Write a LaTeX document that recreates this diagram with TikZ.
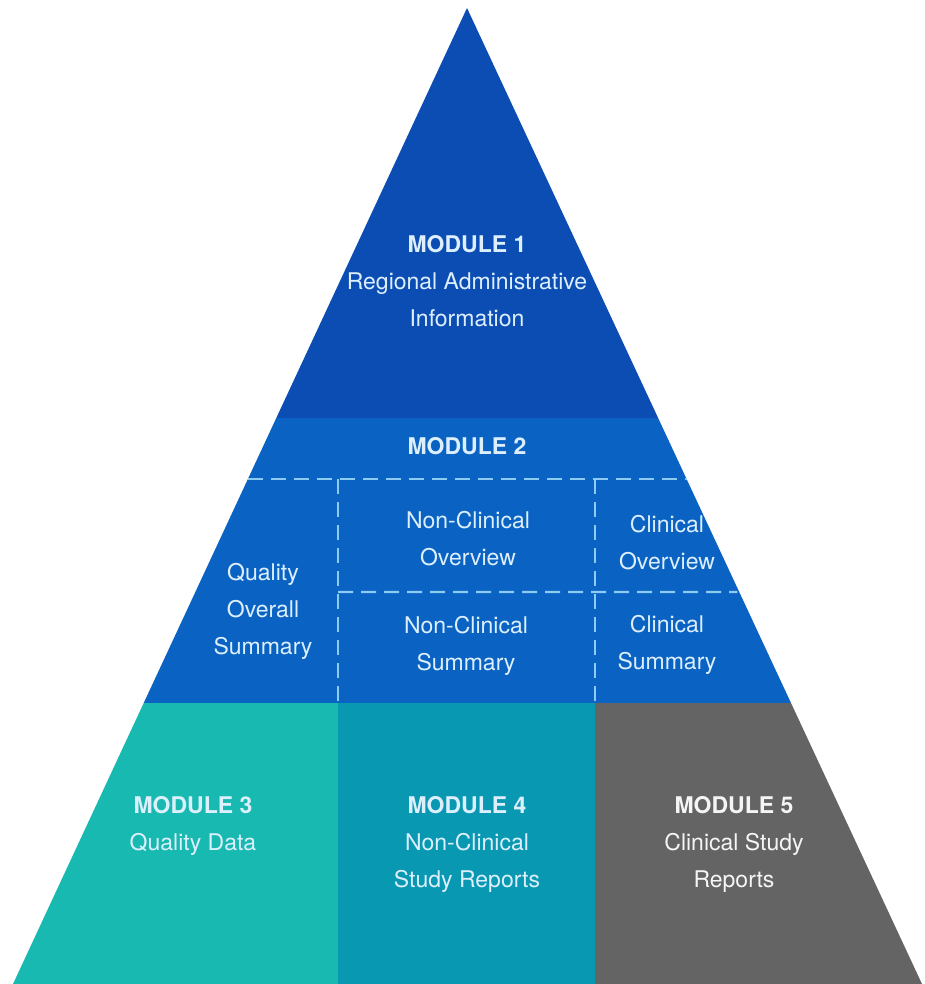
\documentclass[tikz,border=0pt]{standalone}
\usepackage{fontspec}
\setmainfont{TeX Gyre Heros}
\usetikzlibrary{calc}
\definecolor{modA}{HTML}{0C4DB4}
\definecolor{modB}{HTML}{0A63C2}
\definecolor{modC}{HTML}{17B9B0}
\definecolor{modD}{HTML}{0898B2}
\definecolor{modE}{HTML}{646464}
\definecolor{dashcol}{HTML}{8CCBF2}
\definecolor{labelcol}{HTML}{DDEFFC}
\tikzset{
  lbl/.style={text=labelcol, align=center, inner sep=0pt,
    font=\fontsize{23}{37}\selectfont},
  divider/.style={draw=dashcol, line width=2.2pt, dash pattern=on 15pt off 8pt},
}
\begin{document}
\begin{tikzpicture}[x=1pt,y=-1pt]
\useasboundingbox (0,0) rectangle (925,984);
% outline of the pyramid
\coordinate (A) at (467,8);
\coordinate (L) at (13,984);
\coordinate (R) at (922,984);
% points on the sides
\coordinate (l1) at ($(A)!0.4201!(L)$);
\coordinate (r1) at ($(A)!0.4201!(R)$);
\coordinate (l2) at ($(A)!0.4826!(L)$);
\coordinate (r2) at ($(A)!0.4826!(R)$);
\coordinate (r3) at ($(A)!0.5984!(R)$);
\coordinate (l4) at ($(A)!0.7121!(L)$);
\coordinate (r4) at ($(A)!0.7121!(R)$);
% column splits
\coordinate (c1t) at (338,479);
\coordinate (c1m) at (338,703);
\coordinate (c1b) at (338,984);
\coordinate (c2t) at (595,479);
\coordinate (c2m) at (595,703);
\coordinate (c2b) at (595,984);
\coordinate (m3) at (338,592);
\coordinate (r3e) at ($(r3)+(-2,0)$);

% bands
\fill[modA] (A) -- (r1) -- (l1) -- cycle;
\fill[modB] (l1) -- (r1) -- (r4) -- (l4) -- cycle;
\fill[modC] (l4) -- (c1m) -- (c1b) -- (L) -- cycle;
\fill[modD] (c1m) -- (c2m) -- (c2b) -- (c1b) -- cycle;
\fill[modE] (c2m) -- (r4) -- (R) -- (c2b) -- cycle;

% dashed dividers inside module 2
\draw[divider] (l2) -- (r2);
\draw[divider] (c1t) -- (c1m);
\draw[divider] (c2t) -- (c2m);
\draw[divider] (m3) -- (r3e);

% labels
\node[lbl] (m1) at (467,281) {\textbf{MODULE 1}\\Regional Administrative\\Information};
\node[lbl] (m2) at (467,446) {\textbf{MODULE 2}};
\node[lbl] (qos) at (263,611) {Quality\\Overall\\Summary};
\node[lbl] (nco) at (468,539) {Non-Clinical\\Overview};
\node[lbl] (co) at (667,543) {Clinical\\Overview};
\node[lbl] (ncs) at (466,646) {Non-Clinical\\Summary};
\node[lbl] (cs) at (667,645) {Clinical\\Summary};
\node[lbl] (m3l) at (193,826) {\textbf{MODULE 3}\\Quality Data};
\node[lbl] (m4l) at (467,844) {\textbf{MODULE 4}\\Non-Clinical\\Study Reports};
\node[lbl,text=white!92!gray] (m5l) at (734,844) {\textbf{MODULE 5}\\Clinical Study\\Reports};
\end{tikzpicture}
\end{document}
